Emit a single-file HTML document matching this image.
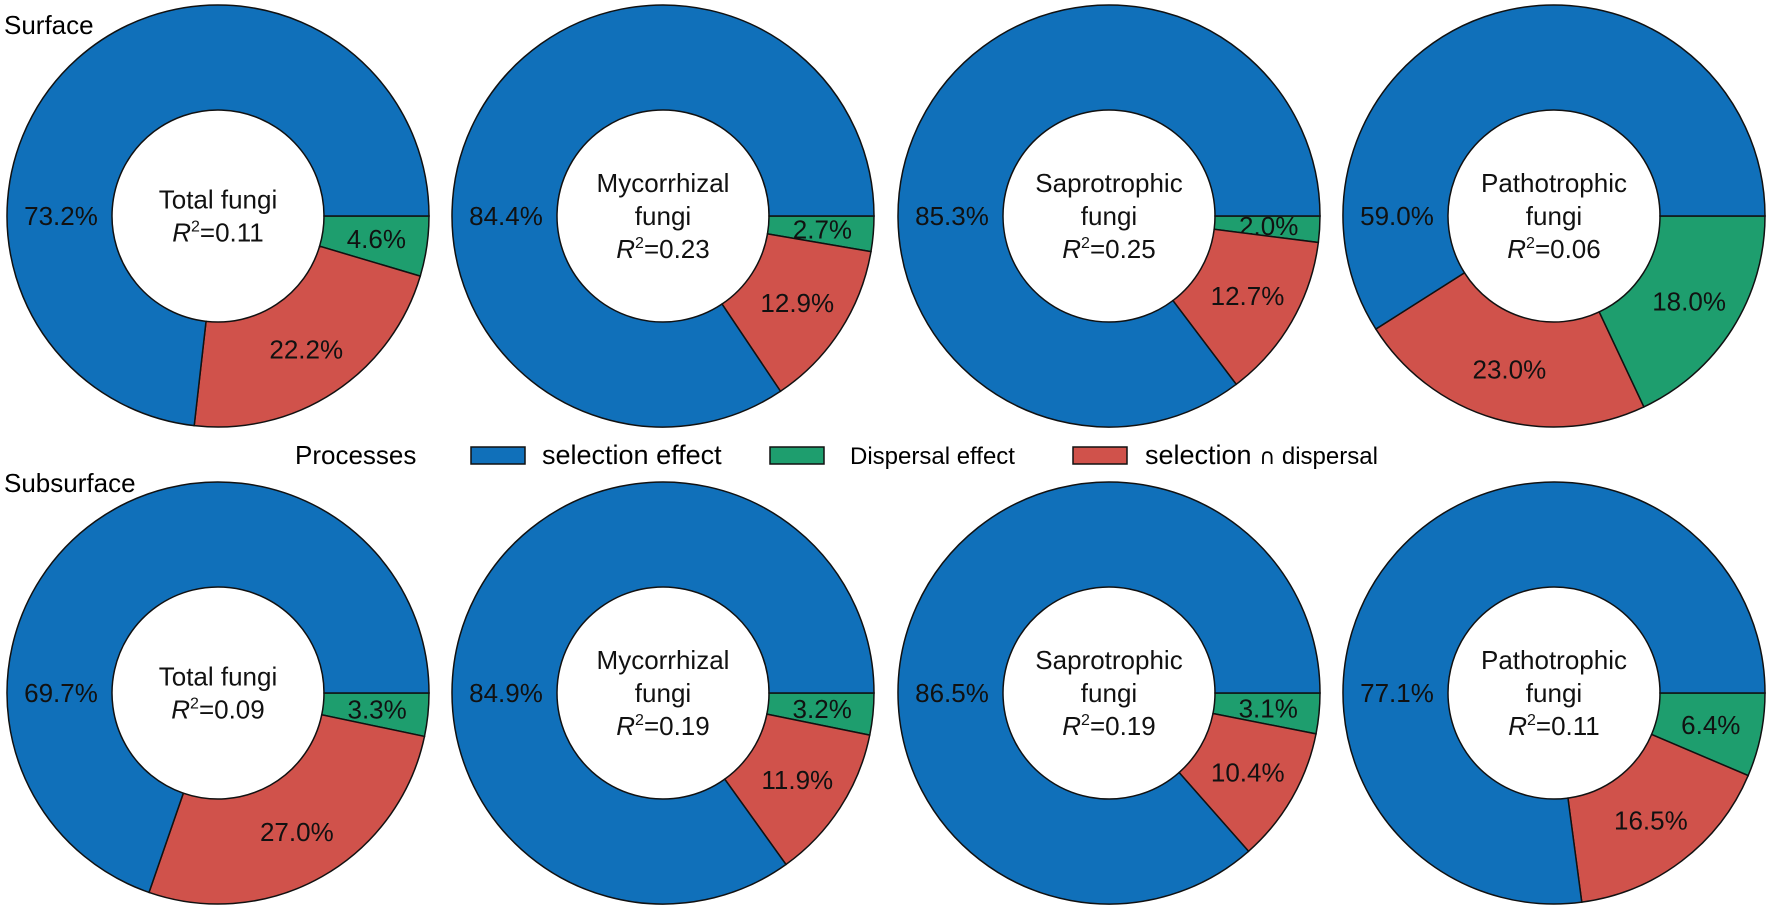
<!DOCTYPE html>
<html><head><meta charset="utf-8"><style>
html,body{margin:0;padding:0;background:#fff;}
svg{display:block;font-family:"Liberation Sans",Arial,sans-serif;}
</style></head><body>
<svg id="fig" width="1772" height="913" viewBox="0 0 1772 913">
<text x="4" y="34" font-size="26">Surface</text>
<text x="4" y="492" font-size="26">Subsurface</text>
<g>
<text x="295" y="464" font-size="26">Processes</text>
<rect x="471" y="447" width="54" height="17" fill="#1070BA" stroke="#111" stroke-width="1.5"/>
<text x="542" y="464" font-size="27">selection effect</text>
<rect x="770" y="447" width="54" height="17" fill="#1E9E6E" stroke="#111" stroke-width="1.5"/>
<text x="850" y="464" font-size="24">Dispersal effect</text>
<rect x="1073" y="447" width="54" height="17" fill="#D0524B" stroke="#111" stroke-width="1.5"/>
<text x="1145" y="464" font-size="27"><tspan>selection </tspan><tspan font-family="DejaVu Sans, sans-serif" font-size="22">∩</tspan><tspan font-size="24"> dispersal</tspan></text>
</g>
</svg>
<script>
const groupNames = ["Total fungi", "Mycorrhizal fungi", "Saprotrophic fungi", "Pathotrophic fungi"];
const surfaceSelection = [73.2, 84.4, 85.3, 59.0];
const surfaceDispersal = [4.6, 2.7, 2.0, 18.0];
const surfaceOverlap = [22.2, 12.9, 12.7, 23.0];
const surfaceR2 = ["0.11", "0.23", "0.25", "0.06"];
const subSelection = [69.7, 84.9, 86.5, 77.1];
const subDispersal = [3.3, 3.2, 3.1, 6.4];
const subOverlap = [27.0, 11.9, 10.4, 16.5];
const subR2 = ["0.09", "0.19", "0.19", "0.11"];

const NS = "http://www.w3.org/2000/svg";
const svg = document.getElementById("fig");
const colX = [218, 663, 1109, 1554];
const rowY = [216, 693];
const R = 211, r = 106, LR = 160;
const COL = {sel: "#1070BA", disp: "#1E9E6E", ovl: "#D0524B"};

function mk(tag, attrs, parent) {
  const e = document.createElementNS(NS, tag);
  for (const k in attrs) e.setAttribute(k, attrs[k]);
  parent.appendChild(e);
  return e;
}
function pt(cx, cy, rad, a) { return [cx + rad * Math.cos(a), cy + rad * Math.sin(a)]; }
function arcPath(cx, cy, a0, a1) {
  const large = (a1 - a0) > Math.PI ? 1 : 0;
  const p0 = pt(cx, cy, R, a0), p1 = pt(cx, cy, R, a1), q1 = pt(cx, cy, r, a1), q0 = pt(cx, cy, r, a0);
  return `M${p0[0]},${p0[1]} A${R},${R} 0 ${large} 1 ${p1[0]},${p1[1]} L${q1[0]},${q1[1]} A${r},${r} 0 ${large} 0 ${q0[0]},${q0[1]} Z`;
}
function fmt(v) { return v.toFixed(1) + "%"; }

function drawDonut(row, i, sel, disp, ovl, r2) {
  const cx = colX[i], cy = rowY[row];
  const g = mk("g", {}, svg);
  
  
  const total = sel + disp + ovl;
  const slices = [
    {v: disp, c: COL.disp, n: 'dispersal'},
    {v: ovl, c: COL.ovl, n: 'overlap'},
    {v: sel, c: COL.sel, n: 'selection'}
  ];
  let a = 0;
  slices.forEach(s => {
    const a1 = a + s.v / total * 2 * Math.PI;
    const p = mk("path", {d: arcPath(cx, cy, a, a1), fill: s.c, stroke: "#111", "stroke-width": 1.5}, g);
    
    
    let lx, ly;
    if (s.n === 'selection') { lx = cx - 157; ly = cy; }
    else { const m = (a + a1) / 2; [lx, ly] = pt(cx, cy, LR, m); }
    const t = mk("text", {x: lx, y: ly + 9, "font-size": 26, "text-anchor": "middle", fill: "#111"}, g);
    t.textContent = fmt(s.v);
    
    
    a = a1;
  });
  const name = groupNames[i];
  const words = name === "Total fungi" ? [name] : name.split(" ");
  const lines = words.length + 1;
  const sp = 33;
  const y0 = cy - (lines - 1) * sp / 2;
  const title = mk("text", {"font-size": 26, "text-anchor": "middle", fill: "#111"}, g);
  
  
  words.forEach((w, k) => {
    const ts = mk("tspan", {x: cx, y: y0 + k * sp + 9}, title);
    ts.textContent = w;
  });
  const rt = mk("text", {x: cx, y: y0 + words.length * sp + 9, "font-size": 26, "text-anchor": "middle", fill: "#111"}, g);
  
  
  const t1 = mk("tspan", {"font-style": "italic"}, rt); t1.textContent = "R";
  const t2 = mk("tspan", {"font-size": 16, dy: -10}, rt); t2.textContent = "2";
  const t3 = mk("tspan", {dy: 10}, rt); t3.textContent = "=" + r2;
}
for (let i = 0; i < 4; i++) {
  drawDonut(0, i, surfaceSelection[i], surfaceDispersal[i], surfaceOverlap[i], surfaceR2[i]);
  drawDonut(1, i, subSelection[i], subDispersal[i], subOverlap[i], subR2[i]);
}
</script>
</body></html>
